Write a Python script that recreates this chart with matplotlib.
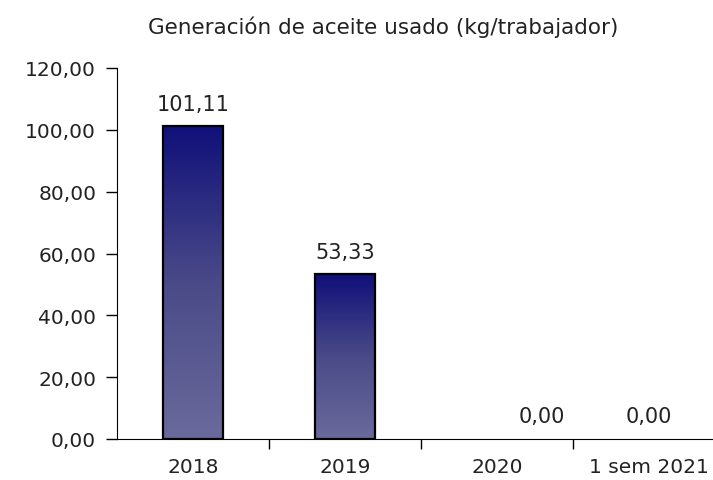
import numpy as np
import matplotlib
matplotlib.use("Agg")
import matplotlib.pyplot as plt
from matplotlib.colors import LinearSegmentedColormap
from matplotlib.ticker import FuncFormatter

# data
categories = ["2018", "2019", "2020", "1 sem 2021"]
values = [101.11, 53.33, 0.00, 0.00]
title = "Generación de aceite usado (kg/trabajador)"

def fmt(v, pos=None):
    return f"{v:.2f}".replace(".", ",")

fig = plt.figure(figsize=(7.13, 4.81), dpi=100)
ax = fig.add_axes([117 / 713, 41 / 481, 608 / 713, 371 / 481])

x = np.arange(len(categories))
width = 0.4
grad = LinearSegmentedColormap.from_list("navy", ["#6a6a9c", "#4a4a88", "#10107a"])

bars = ax.bar(x, values, width=width, facecolor="none",
              edgecolor="black", linewidth=1.6, zorder=3)

# gradient fill clipped to each bar; zero bars are not drawn
for b in bars:
    h = b.get_height()
    if h <= 0:
        b.set_visible(False)
        continue
    x0 = b.get_x()
    img = ax.imshow(np.linspace(0, 1, 256).reshape(-1, 1), cmap=grad,
                    origin="lower", aspect="auto",
                    extent=(x0, x0 + b.get_width(), 0, h), zorder=2)
    img.set_clip_path(b)

# data labels (2020 label sits off-centre in the original)
label_dx = [0, 0, 32, 0]
for xi, v, dx in zip(x, values, label_dx):
    ax.annotate(fmt(v), (xi, v), xytext=(dx, 9), textcoords="offset points",
                ha="center", va="bottom", fontsize=15, color="#222222")

ax.set_xlim(-0.5, len(categories) - 0.5)
ax.set_ylim(0, 120)
ax.set_yticks(np.arange(0, 121, 20))
ax.yaxis.set_major_formatter(FuncFormatter(fmt))

ax.set_xticks(x)
ax.set_xticklabels(categories)
ax.set_xticks(np.arange(0.5, len(categories) - 0.5, 1), minor=True)
ax.tick_params(axis="x", which="major", length=0, pad=13,
               labelsize=14.5, labelcolor="#222222")
ax.tick_params(axis="x", which="minor", length=7, width=1, color="black")
ax.tick_params(axis="y", length=8, width=1, pad=7,
               labelsize=14.5, labelcolor="#222222", color="black")

for s in ["top", "right"]:
    ax.spines[s].set_visible(False)
ax.spines["left"].set_color("black")
ax.spines["bottom"].set_color("black")

fig.text(383 / 713, 1 - 27 / 481, title, ha="center", va="center",
         fontsize=15.5, color="#222222")

fig.savefig("out.png", dpi=100)
